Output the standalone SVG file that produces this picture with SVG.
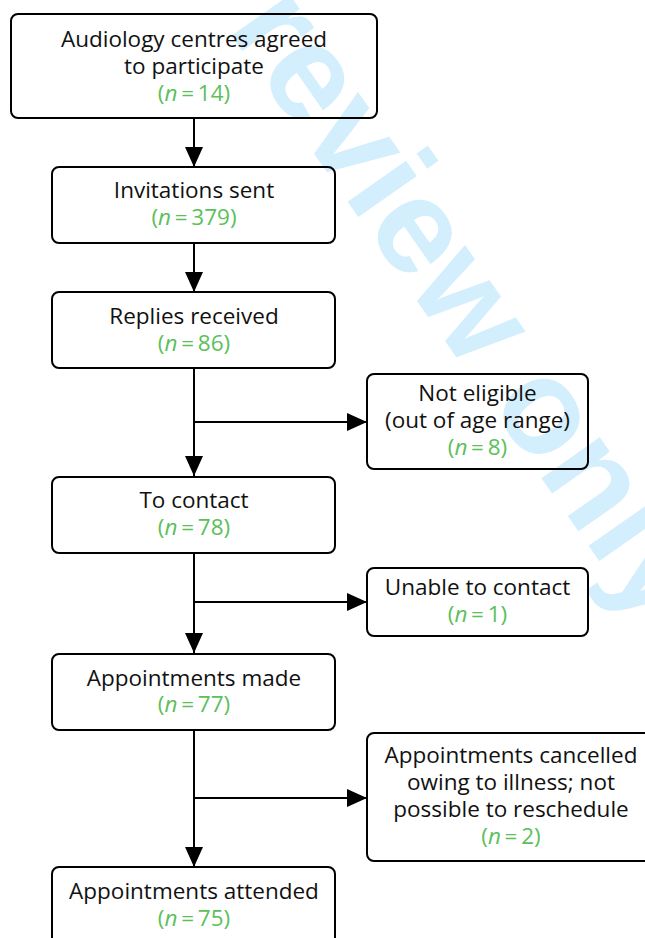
<svg xmlns="http://www.w3.org/2000/svg" width="645" height="938" viewBox="0 0 645 938">
  <style>
    .box { fill: none; stroke: #000; stroke-width: 2; }
    .lbl { font-family: "Open Sans", "Noto Sans", sans-serif; font-size: 22.5px; fill: #111; text-anchor: middle; }
    .n { fill: #5cbf5c; }
    .it { font-style: italic; }
    .edge { stroke: #000; stroke-width: 2; fill: none; }
    .wm { font-family: "Liberation Sans", Arial, sans-serif; font-weight: bold; font-size: 135px; fill: #d3eefc; }
  </style>
  <defs>
    <marker id="arrow" viewBox="0 0 20 18" refX="20" refY="9" markerWidth="20" markerHeight="18" markerUnits="userSpaceOnUse" orient="auto">
      <path d="M0,0 L20,9 L0,18 Z" fill="#000"/>
    </marker>
  </defs>

  <!-- background watermark -->
  <text class="wm" transform="translate(226,28) rotate(55)">review only</text>

  <!-- connectors -->
  <g id="connectors">
    <line class="edge" x1="194" y1="118" x2="194" y2="167" marker-end="url(#arrow)"/>
    <line class="edge" x1="194" y1="243" x2="194" y2="292" marker-end="url(#arrow)"/>
    <line class="edge" x1="194" y1="368" x2="194" y2="476" marker-end="url(#arrow)"/>
    <line class="edge" x1="194" y1="422" x2="367" y2="422" marker-end="url(#arrow)"/>
    <line class="edge" x1="194" y1="553" x2="194" y2="653" marker-end="url(#arrow)"/>
    <line class="edge" x1="194" y1="602" x2="367" y2="602" marker-end="url(#arrow)"/>
    <line class="edge" x1="194" y1="730" x2="194" y2="867" marker-end="url(#arrow)"/>
    <line class="edge" x1="194" y1="798" x2="367" y2="798" marker-end="url(#arrow)"/>
  </g>

  <g id="centres">
    <rect class="box" x="11" y="14" width="366" height="104" rx="7"/>
    <text class="lbl" x="194" y="47">Audiology centres agreed</text>
    <text class="lbl" x="194" y="74">to participate</text>
    <text class="lbl n" x="194" y="101">(<tspan class="it">n</tspan>&#8201;=&#8201;14)</text>
  </g>

  <g id="invitations">
    <rect class="box" x="52" y="167" width="283" height="76" rx="7"/>
    <text class="lbl" x="194" y="198">Invitations sent</text>
    <text class="lbl n" x="194" y="225">(<tspan class="it">n</tspan>&#8201;=&#8201;379)</text>
  </g>

  <g id="replies">
    <rect class="box" x="52" y="292" width="283" height="76" rx="7"/>
    <text class="lbl" x="194" y="324">Replies received</text>
    <text class="lbl n" x="194" y="351">(<tspan class="it">n</tspan>&#8201;=&#8201;86)</text>
  </g>

  <g id="not-eligible">
    <rect class="box" x="367" y="374" width="221" height="95" rx="7"/>
    <text class="lbl" x="477.5" y="401">Not eligible</text>
    <text class="lbl" x="477.5" y="428">(out of age range)</text>
    <text class="lbl n" x="477.5" y="455">(<tspan class="it">n</tspan>&#8201;=&#8201;8)</text>
  </g>

  <g id="to-contact">
    <rect class="box" x="52" y="477" width="283" height="76" rx="7"/>
    <text class="lbl" x="194" y="508">To contact</text>
    <text class="lbl n" x="194" y="535">(<tspan class="it">n</tspan>&#8201;=&#8201;78)</text>
  </g>

  <g id="unable">
    <rect class="box" x="367" y="568" width="221" height="68" rx="7"/>
    <text class="lbl" x="477.5" y="595">Unable to contact</text>
    <text class="lbl n" x="477.5" y="622">(<tspan class="it">n</tspan>&#8201;=&#8201;1)</text>
  </g>

  <g id="made">
    <rect class="box" x="52" y="654" width="283" height="76" rx="7"/>
    <text class="lbl" x="194" y="686">Appointments made</text>
    <text class="lbl n" x="194" y="712">(<tspan class="it">n</tspan>&#8201;=&#8201;77)</text>
  </g>

  <g id="cancelled">
    <rect class="box" x="367" y="733" width="290" height="128" rx="7"/>
    <text class="lbl" x="511" y="763">Appointments cancelled</text>
    <text class="lbl" x="511" y="790">owing to illness; not</text>
    <text class="lbl" x="511" y="817">possible to reschedule</text>
    <text class="lbl n" x="511" y="844">(<tspan class="it">n</tspan>&#8201;=&#8201;2)</text>
  </g>

  <g id="attended">
    <rect class="box" x="52" y="867" width="283" height="90" rx="7"/>
    <text class="lbl" x="194" y="899">Appointments attended</text>
    <text class="lbl n" x="194" y="926">(<tspan class="it">n</tspan>&#8201;=&#8201;75)</text>
  </g>
</svg>
